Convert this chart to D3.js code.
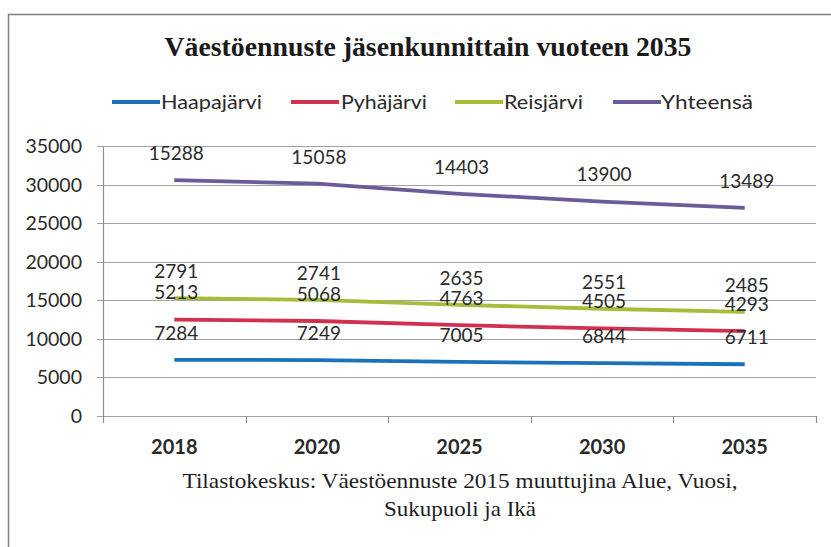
<!DOCTYPE html>
<html>
<head>
<meta charset="utf-8">
<script src="https://cdn.jsdelivr.net/npm/d3@7"></script>
<style>
  html, body { margin: 0; padding: 0; background: #fff; }
  svg { display: block; }
</style>
</head>
<body>
<svg id="chart" width="831" height="547"></svg>
<script>
const years = ["2018", "2020", "2025", "2030", "2035"];
const seriesNames = ["Haapajärvi", "Pyhäjärvi", "Reisjärvi", "Yhteensä"];
const haapajarvi = [7284, 7249, 7005, 6844, 6711];
const pyhajarvi  = [5213, 5068, 4763, 4505, 4293];
const reisjarvi  = [2791, 2741, 2635, 2551, 2485];
const yhteensa   = [15288, 15058, 14403, 13900, 13489];
const yTicks = [0, 5000, 10000, 15000, 20000, 25000, 30000, 35000];
const colors = ["#1c72b8", "#d2304f", "#a8bc3c", "#6b5b9a"];
const titleText = "Väestöennuste jäsenkunnittain vuoteen 2035";
const captionLines = ["Tilastokeskus: Väestöennuste 2015 muuttujina Alue, Vuosi,", "Sukupuoli ja Ikä"];

(function () {
const seriesValues = [haapajarvi, pyhajarvi, reisjarvi, yhteensa];
const rows = years.map((yr, i) => {
  const r = { year: yr };
  seriesNames.forEach((n, k) => r[n] = seriesValues[k][i]);
  return r;
});
const stacked = d3.stack().keys(seriesNames)(rows);

const svg = d3.select("#chart");
const pLeft = 103, pRight = 816, pTop = 146, pBottom = 416;

// frame
svg.append("path")
  .attr("d", `M8.5,547 L8.5,14.5 L831,14.5`)
  .attr("fill", "none").attr("stroke", "#808080").attr("stroke-width", 1.5);

const x = d3.scaleBand().domain(years).range([pLeft, pRight]).padding(0);
const y = d3.scaleLinear().domain([0, 35000]).range([pBottom, pTop]);

// gridlines
svg.append("g").selectAll("line").data(yTicks).join("line")
  .attr("x1", pLeft - 6).attr("x2", pRight)
  .attr("y1", d => Math.round(y(d)) + 0.5).attr("y2", d => Math.round(y(d)) + 0.5)
  .attr("stroke", "#a3a1a8").attr("stroke-width", 1.2);

// y axis line
svg.append("line").attr("x1", pLeft + 0.5).attr("x2", pLeft + 0.5)
  .attr("y1", y(35000)).attr("y2", pBottom + 0.5)
  .attr("stroke", "#8e8e8e").attr("stroke-width", 1.2);

// x ticks
const bounds = years.map(d => x(d)).concat([pRight]);
svg.append("g").selectAll("line").data(bounds).join("line")
  .attr("x1", d => Math.round(d) + 0.5).attr("x2", d => Math.round(d) + 0.5)
  .attr("y1", pBottom).attr("y2", pBottom + 7)
  .attr("stroke", "#8e8e8e").attr("stroke-width", 1.2);

// y tick labels
svg.append("g").selectAll("text").data(yTicks).join("text")
  .attr("x", 82).attr("y", d => y(d))
  .attr("dy", "0.36em")
  .attr("text-anchor", "end")
  .attr("font-family", "Lato, 'Open Sans', sans-serif")
  .attr("font-size", 19.5)
  .attr("fill", "#2a2a2a")
  .text(d => d);

// x labels
svg.append("g").selectAll("text").data(years).join("text")
  .attr("x", d => x(d) + x.bandwidth() / 2).attr("y", 447)
  .attr("dy", "0.36em")
  .attr("text-anchor", "middle")
  .attr("font-family", "Lato, 'Open Sans', sans-serif")
  .attr("font-size", 20)
  .attr("font-weight", "bold")
  .attr("fill", "#2a2a2a")
  .text(d => d);

// lines
const line = d3.line()
  .x((d, i) => x(years[i]) + x.bandwidth() / 2)
  .y(d => y(d[1]));
svg.append("g").selectAll("path").data(stacked).join("path")
  .attr("d", s => line(s))
  .attr("fill", "none")
  .attr("stroke", (s, i) => colors[i])
  .attr("stroke-width", 3.8)
  .attr("stroke-linecap", "butt");

// data labels
stacked.forEach((s, k) => {
  svg.append("g").selectAll("text").data(s).join("text")
    .attr("x", (d, i) => x(years[i]) + x.bandwidth() / 2 + 2)
    .attr("y", d => y(d[1]) - 27)
    .attr("dy", "0.36em")
    .attr("text-anchor", "middle")
    .attr("font-family", "Lato, 'Open Sans', sans-serif")
    .attr("font-size", 19)
    .attr("fill", "#2a2a2a")
    .text((d, i) => seriesValues[k][i]);
});

// title
svg.append("text")
  .attr("x", 428).attr("y", 56)
  .attr("text-anchor", "middle")
  .attr("font-family", "'Liberation Serif', 'Times New Roman', serif")
  .attr("font-weight", "bold")
  .attr("font-size", 27)
  .attr("textLength", 527).attr("lengthAdjust", "spacingAndGlyphs")
  .attr("fill", "#1a1a1a")
  .text(titleText);

// legend
const legendPos = [
  { lx: 112, tx: 161, tw: 101 },
  { lx: 291, tx: 341, tw: 86 },
  { lx: 455, tx: 504, tw: 79 },
  { lx: 613, tx: 661, tw: 92 }
];
const lg = svg.append("g");
seriesNames.forEach((n, i) => {
  lg.append("line")
    .attr("x1", legendPos[i].lx).attr("x2", legendPos[i].lx + 48)
    .attr("y1", 102).attr("y2", 102)
    .attr("stroke", colors[i]).attr("stroke-width", 4);
  lg.append("text")
    .attr("x", legendPos[i].tx).attr("y", 102)
    .attr("dy", "0.36em")
    .attr("font-family", "Lato, 'Open Sans', sans-serif")
    .attr("font-size", 20)
    .attr("textLength", legendPos[i].tw).attr("lengthAdjust", "spacingAndGlyphs")
    .attr("fill", "#2a2a2a")
    .text(n);
});

// caption
const capWidths = [555, 152];
captionLines.forEach((t, i) => {
  svg.append("text")
    .attr("x", 460).attr("y", 480 + i * 28)
    .attr("dy", "0.36em")
    .attr("text-anchor", "middle")
    .attr("font-family", "'Liberation Serif', 'Times New Roman', serif")
    .attr("font-size", 22)
    .attr("textLength", capWidths[i]).attr("lengthAdjust", "spacingAndGlyphs")
    .attr("fill", "#1e1e1e")
    .text(t);
});
})();
</script>
</body>
</html>
